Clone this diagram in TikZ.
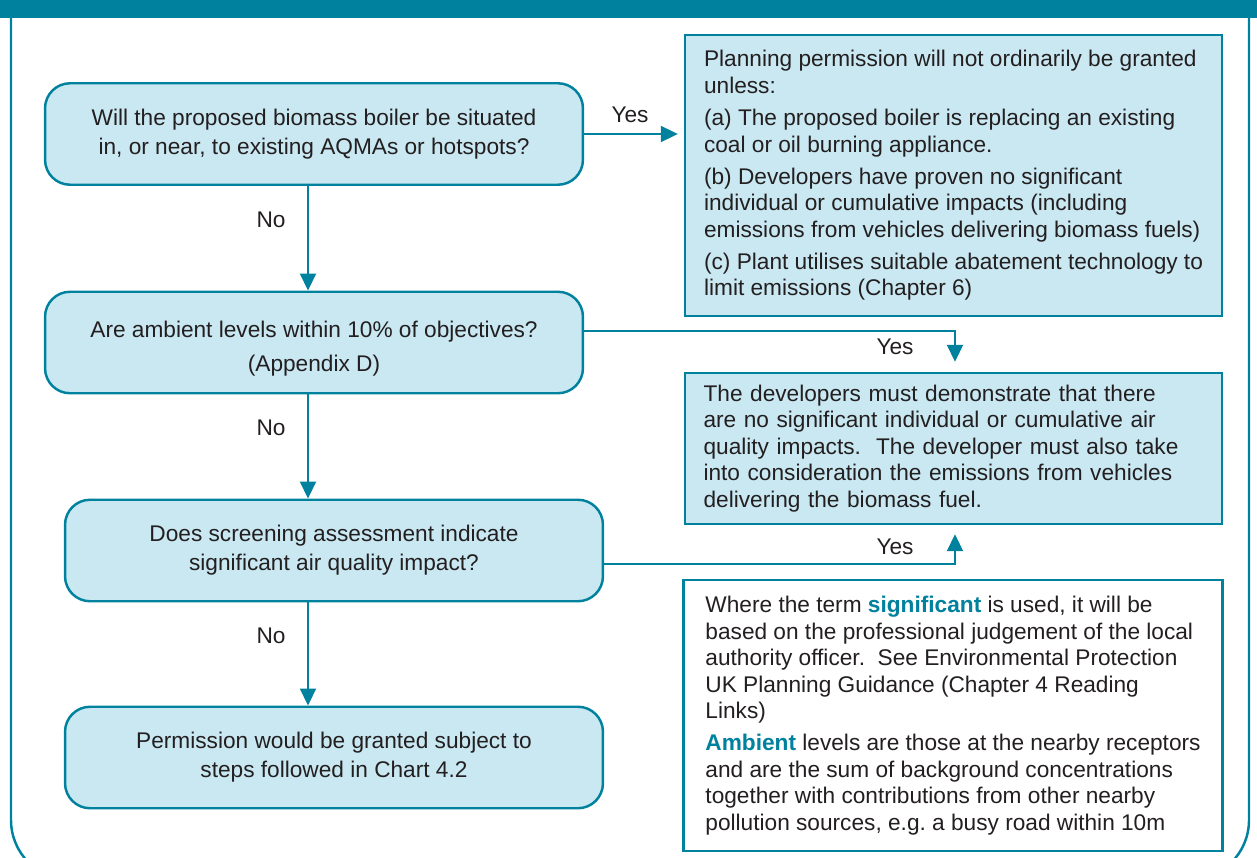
\documentclass[tikz,border=0pt]{standalone}
\usepackage{fontspec}
\setmainfont{Liberation Sans}
\usetikzlibrary{arrows.meta,positioning,calc}
\definecolor{pteal}{HTML}{00819E}
\definecolor{plight}{HTML}{C9E8F2}
\definecolor{ptext}{HTML}{231F20}

\begin{document}
\begin{tikzpicture}[
  x=0.02cm, y=-0.02cm,
  qbox/.style={draw=pteal, fill=plight, line width=1.4pt, rounded corners=0.5cm, minimum width=10.76cm, minimum height=2.03cm, align=center, text=ptext, font=\fontsize{12.9}{16.5}\selectfont},
  tbox/.style={draw=pteal, fill=plight, line width=1.4pt, minimum width=10.74cm, inner xsep=0.37cm, align=left, text=ptext, font=\fontsize{12.9}{15.1}\selectfont},
  arr/.style={-{Triangle[length=0.34cm,width=0.32cm]}, draw=pteal, line width=1.1pt},
  lbl/.style={text=ptext, font=\fontsize{12.9}{15.1}\selectfont},
  frame/.style={draw=pteal, line width=1.4pt},
]
  \useasboundingbox (0,0) rectangle (1257,858);
  \clip (0,0) rectangle (1257,858);
  \fill[pteal] (0,0) rectangle (1257,18);
  \draw[frame, rounded corners=1.2cm] (11,10) -- (11,880) -- (1249,880) -- (1249,10);

  \node[qbox] (q1) at (314,134) {Will the proposed biomass boiler be situated\\in, or near, to existing AQMAs or hotspots?};
  \node[qbox] (q2) at (314,342.5) {\rule{0pt}{0.57cm}Are ambient levels within 10\% of objectives?\\[0.1cm](Appendix D)};
  \node[qbox] (q3) at (334,550.5) {Does screening assessment indicate\\significant air quality impact?};
  \node[qbox] (q4) at (334,757.5) {Permission would be granted subject to\\steps followed in Chart 4.2};

  \node[tbox, minimum height=5.62cm] (planA) at (953.5,175.5) {Planning permission will not ordinarily be granted\\unless:\\[0.11cm]
    (a) The proposed boiler is replacing an existing\\coal or oil burning appliance.\\[0.11cm]
    (b) Developers have proven no significant\\individual or cumulative impacts (including\\emissions from vehicles delivering biomass fuels)\\[0.11cm]
    (c) Plant utilises suitable abatement technology to\\limit emissions (Chapter 6)};
  \node[tbox, text width=10cm, minimum height=3.02cm] (devs) at (953.5,448.5) {The developers must demonstrate that there\\are no significant individual or cumulative air\\quality impacts.\ \ The developer must also take\\into consideration the emissions from vehicles\\delivering the biomass fuel.};
  \node[tbox, fill=white, minimum width=10.78cm, minimum height=5.42cm] (note) at (953,715.5) {Where the term {\color{pteal}\bfseries significant} is used, it will be\\based on the professional judgement of the local\\authority officer.\ \ See Environmental Protection\\UK Planning Guidance (Chapter 4 Reading\\Links)\\[0.11cm]
    {\color{pteal}\bfseries Ambient} levels are those at the nearby receptors\\and are the sum of background concentrations\\together with contributions from other nearby\\pollution sources, e.g.\ a busy road within 10m};

  \coordinate (nox) at (308,0);
  \coordinate (yesx) at (955,0);

  \draw[arr] (q1.south -| nox) -- (q2.north -| nox);
  \draw[arr] (q2.south -| nox) -- (q3.north -| nox);
  \draw[arr] (q3.south -| nox) -- (q4.north -| nox);
  \draw[arr, shorten >=0.12cm] (q1.east) -- (q1.east -| planA.west);
  \draw[arr, shorten >=0.2cm] ([yshift=0.23cm]q2.east) -| (devs.north -| yesx);
  \draw[arr, shorten >=0.18cm] ([yshift=-0.27cm]q3.east) -| (devs.south -| yesx);

  \node[lbl] (no1) at (271,220) {No};
  \node[lbl] (no2) at (271,428) {No};
  \node[lbl] (no3) at (271,636) {No};
  \node[lbl] (yes1) at (630,115) {Yes};
  \node[lbl] (yes2) at (895,347) {Yes};
  \node[lbl] (yes3) at (895,547) {Yes};
\end{tikzpicture}
\end{document}
